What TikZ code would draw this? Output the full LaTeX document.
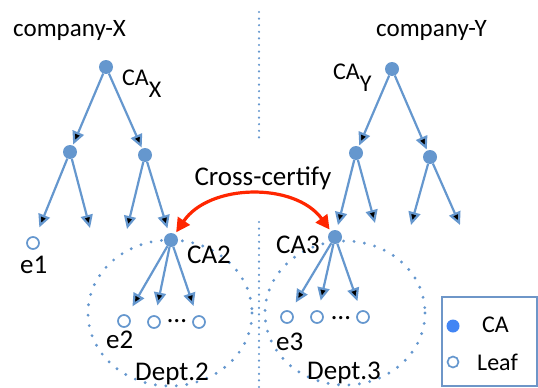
\documentclass[tikz,border=0pt]{standalone}
\usepackage{fontspec}
\setmainfont{Carlito}
\usetikzlibrary{arrows.meta}
\definecolor{treeblue}{RGB}{101,151,206}
\definecolor{keyblue}{RGB}{66,133,244}
\definecolor{boxblue}{RGB}{110,150,200}
\definecolor{certred}{RGB}{255,38,0}
\newcommand{\casub}[1]{CA\raisebox{-12pt}{#1}}

\begin{document}
\begin{tikzpicture}[x=1pt,y=-1pt,
	ca/.style={circle, fill=treeblue, inner sep=0pt, minimum size=14pt},
	leaf/.style={circle, draw=treeblue, line width=1.7pt, fill=white, inner sep=0pt, minimum size=12pt},
	link/.style={draw=treeblue, line width=2.2pt, -{Triangle[length=13pt,width=12pt]}, shorten >=1pt},
	toca/.style={shorten >=5pt},
	toleaf/.style={shorten >=10pt},
	loose/.style={shorten >=0pt},
	deptring/.style={draw=treeblue, line width=3.2pt, line cap=round, dash pattern=on 0pt off 10.5pt},
	divider/.style={draw=treeblue, line width=2.4pt, line cap=round, dash pattern=on 0pt off 6.6pt},
	certify/.style={draw=certred, line width=3.2pt, {Triangle[length=14pt,width=14pt]}-{Triangle[length=14pt,width=14pt]}},
	txt/.style={font=\fontsize{27}{32}\selectfont, inner sep=0pt},
	small/.style={font=\fontsize{24}{28}\selectfont, inner sep=0pt}]
	\useasboundingbox (0,0) rectangle (538,388);

	% departments and divider
	\draw[deptring] (170,313) ellipse [x radius=82, y radius=73];
	\draw[deptring] (345,313) ellipse [x radius=80, y radius=72];
	\draw[divider] (259,12) -- (259,143);
	\draw[divider] (259,222) -- (259,388);

	% company-X
	\draw (106,67) node [ca] (cax) {};
	\draw (70,152) node [ca] (x1) {};
	\draw (145,155) node [ca] (x2) {};
	\draw (171,240) node [ca] (ca2) {};
	\draw (33,243) node [leaf] (e1) {};
	\draw (124,321) node [leaf] (e2) {};
	\draw (154,322) node [leaf] (l22) {};
	\draw (199,322) node [leaf] (l23) {};
	\coordinate (x1b) at (90,228);
	\coordinate (x2a) at (127,229);

	% company-Y
	\draw (392,69) node [ca] (cay) {};
	\draw (356,153) node [ca] (y1) {};
	\draw (430,157) node [ca] (y2) {};
	\draw (335,237) node [ca] (ca3) {};
	\draw (287,317) node [leaf] (e3) {};
	\draw (317,317) node [leaf] (l32) {};
	\draw (363,317) node [leaf] (l33) {};
	\coordinate (y1b) at (375,223);
	\coordinate (y2a) at (411,225);
	\coordinate (y2b) at (460,225);

	\draw[link]
	(cax) edge (x1)
	      edge (x2)
	(x1)  edge[toleaf] (e1)
	      edge[loose] (x1b)
	(x2)  edge[loose] (x2a)
	      edge[toca] (ca2)
	(ca2) edge[toleaf] (e2)
	      edge[toleaf] (l22)
	      edge[toleaf] (l23)
	(cay) edge (y1)
	      edge (y2)
	(y1)  edge[toca] (ca3)
	      edge[loose] (y1b)
	(y2)  edge[loose] (y2a)
	      edge[loose] (y2b)
	(ca3) edge[toleaf] (e3)
	      edge[toleaf] (l32)
	      edge[toleaf] (l33);

	\draw[certify, shorten <=2pt, shorten >=2pt] (ca2) to[bend left=55] (ca3);

	% labels
	\node[anchor=base west, inner sep=0pt, font=\fontsize{25}{30}\selectfont] (compx) at (13,36) {company-X};
	\node[anchor=base west, inner sep=0pt, font=\fontsize{25}{30}\selectfont] (compy) at (376,36) {company-Y};
	\node[small, anchor=base west] (lcax) at (122,85) {\casub{X}};
	\node[small, anchor=base west] (lcay) at (333,79) {\casub{Y}};
	\node[txt, anchor=base] (lcross) at (263,185) {Cross-certify};
	\node[txt, anchor=base west] (lca2) at (187,263) {CA2};
	\node[txt, anchor=base west] (lca3) at (276,253) {CA3};
	\node[txt, anchor=base west] (le1) at (20,273) {e1};
	\node[txt, anchor=base west] (le2) at (106,348) {e2};
	\node[txt, anchor=base west] (le3) at (276,350) {e3};
	\node[txt, anchor=base] (ldots2) at (177,322) {\dots};
	\node[txt, anchor=base] (ldots3) at (341,319) {\dots};
	\node[txt, anchor=base west] (ldept2) at (135,380) {Dept.2};
	\node[txt, anchor=base west] (ldept3) at (307,379) {Dept.3};

	% legend
	\draw[boxblue, line width=1.4pt] (442,297) rectangle (537,386);
	\draw (453,326) node [circle, fill=keyblue, inner sep=0pt, minimum size=13pt] (keyca) {};
	\draw (453,362) node [leaf, minimum size=11pt] (keyleaf) {};
	\node[small, anchor=base west] (lkeyca) at (482,332) {CA};
	\node[small, anchor=base west] (lkeyleaf) at (477,370) {Leaf};
\end{tikzpicture}
\end{document}
